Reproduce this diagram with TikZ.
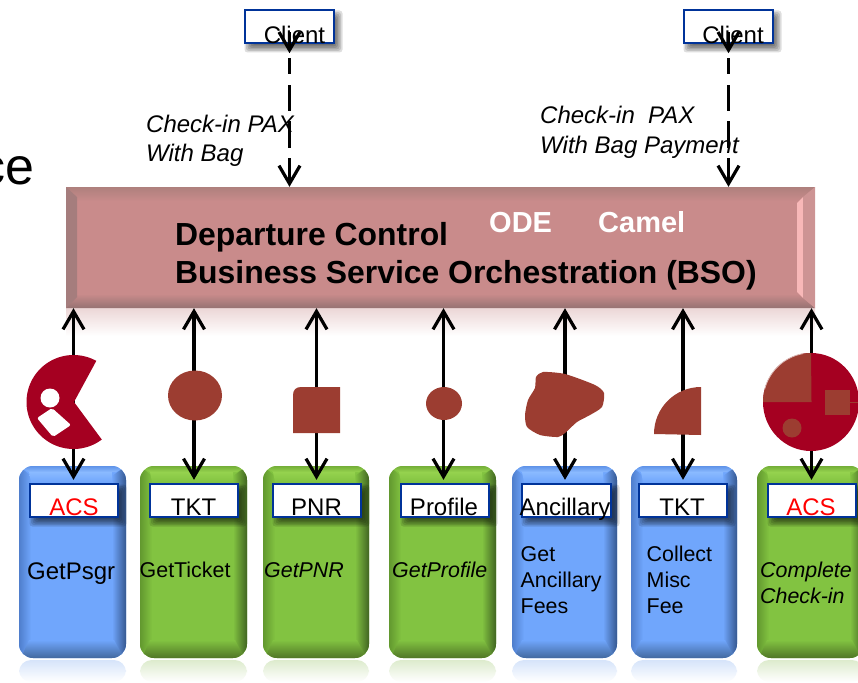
\documentclass[tikz,border=0pt]{standalone}
\usepackage{fontspec}
\setmainfont{Liberation Sans}
\usetikzlibrary{arrows.meta,calc}
\definecolor{bluemain}{HTML}{70A6FC}
\definecolor{blueleft}{HTML}{4F7ECC}
\definecolor{blueright}{HTML}{365890}
\definecolor{bluetop}{HTML}{5F93E8}
\definecolor{bluehi}{HTML}{8ABAFF}
\definecolor{bluebot}{HTML}{42699F}
\definecolor{blueref}{HTML}{D6E4FA}
\definecolor{greenmain}{HTML}{82C341}
\definecolor{greenleft}{HTML}{62982F}
\definecolor{greenright}{HTML}{416522}
\definecolor{greentop}{HTML}{74AE38}
\definecolor{greenhi}{HTML}{95D24E}
\definecolor{greenbot}{HTML}{507627}
\definecolor{greenref}{HTML}{DDEBCD}
\definecolor{bsomain}{HTML}{C98B8B}
\definecolor{bsotop}{HTML}{AE807D}
\definecolor{bsoleft}{HTML}{A57D7D}
\definecolor{bsobot}{HTML}{967272}
\definecolor{bsohi}{HTML}{F8B8B8}
\definecolor{iconred}{HTML}{A50021}
\definecolor{iconbrown}{HTML}{9C3D31}
\definecolor{labelblue}{HTML}{003399}
\tikzset{
  x=1pt,y=-1pt,
  tiphead/.style={-{Straight Barb[length=18pt,width=21pt,line width=3.2pt]}},
  biarrow/.style={line width=3.2pt,{Straight Barb[length=18pt,width=21pt,line width=3.2pt]}-{Straight Barb[length=18pt,width=21pt,line width=3.2pt]},shorten >=3pt},
  dashflow/.style={line width=3.2pt,dash pattern=on 16pt off 11pt on 26pt off 10pt on 27pt off 10pt on 60pt,tiphead},
  labelbox/.style={draw=labelblue,line width=2.4pt,fill=white,inner sep=0pt,minimum height=32pt},
  labeltext/.style={anchor=base,font=\fontsize{24}{24}\selectfont,inner sep=0pt},
  tasktext/.style={anchor=base west,font=\fontsize{21.4}{26}\selectfont,inner sep=0pt,align=left},
  notetext/.style={anchor=base west,font=\fontsize{24}{29}\selectfont\itshape,inner sep=0pt,align=left},
  bsotext/.style={anchor=base west,font=\fontsize{31.9}{38}\selectfont\bfseries,inner sep=0pt,align=left},
  whitetext/.style={anchor=base west,font=\fontsize{29}{29}\selectfont\bfseries,text=white,inner sep=0pt},
  blockbase/.style={inner sep=0pt,rounded corners=14pt},
}
% id, x1, x2, palette
\newcommand{\taskblock}[4]{%
  \shade[top color=#4ref,bottom color=white,rounded corners=12pt] (#2,660) rectangle (#3,682);
  \path let \n1={(#2+#3)/2}, \n2={#3-#2} in
    node[blockbase,fill=#4main,minimum width=\n2 pt,minimum height=192pt] (b#1) at (\n1,562) {};
  \begin{scope}
    \clip[rounded corners=14pt] (#2,466) rectangle (#3,658);
    \shade[left color=#4left,right color=#4main] (#2,466) -- ({#2+12},476) -- ({#2+12},644) -- (#2,658) -- cycle;
    \shade[left color=#4main,right color=#4right] (#3,466) -- ({#3-14},476) -- ({#3-14},644) -- (#3,658) -- cycle;
    \shade[top color=#4top,bottom color=#4hi] (#2,466) -- (#3,466) -- ({#3-10},472) -- ({#2+10},472) -- cycle;
    \shade[top color=#4hi,bottom color=#4main] ({#2+10},472) -- ({#3-14},472) -- ({#3-14},482) -- ({#2+12},482) -- cycle;
    \shade[top color=#4main,bottom color=#4bot] ({#2+10},640) -- ({#3-12},640) -- ({#3-2},658) -- ({#2+2},658) -- cycle;
  \end{scope}
}
% id, x1, y1, x2, y2
\newcommand{\whitebox}[5]{%
  \foreach \s in {-3,-1.5,0,1.5,3,4.5}{
    \fill[black,opacity=.13,rounded corners=3pt] ({#2+4-\s},{#3+5-\s}) rectangle ({#4+4+\s},{#5+5+\s});
  }
  \path let \n1={(#2+#4)/2}, \n2={(#3+#5)/2}, \n3={#4-#2}, \n4={#5-#3} in
    node[labelbox,minimum width=\n3 pt,minimum height=\n4 pt] (#1) at (\n1,\n2) {};
}
\begin{document}
\begin{tikzpicture}
\useasboundingbox (0,0) rectangle (858,682);
\node[anchor=base east,font=\fontsize{52}{52}\selectfont,inner sep=0pt] (frag) at (35,184) {ce};

% orchestration bar
\shade[top color=bsomain!35!white,bottom color=white] (66,308) rectangle (815,336);
\node[inner sep=0pt,fill=bsomain,minimum width=749pt,minimum height=121pt] (bso) at (440.5,247.5) {};
\shade[top color=bsotop,bottom color=bsomain] (66,187) -- (815,187) -- (800,201) -- (77,201) -- cycle;
\shade[top color=bsomain,bottom color=bsobot] (77,294) -- (798,294) -- (815,308) -- (66,308) -- cycle;
\fill[bsoleft] (66,187) -- (77,197) -- (77,297) -- (66,308) -- cycle;
\fill[bsohi] (797,203) -- (803,197) -- (803,298) -- (797,292) -- cycle;
\fill[bsomain!92!white] (803,197) -- (815,187) -- (815,308) -- (803,298) -- cycle;
\node[bsotext] (dc) at (175,245.5) {Departure Control};
\node[bsotext] (bs) at (175,283.5) {Business Service Orchestration (BSO)};
\node[whitetext] (ode) at (489,232) {ODE};
\node[whitetext] (camel) at (598,232) {Camel};

% task blocks
\taskblock{1}{19}{126}{blue}
\taskblock{2}{140}{247}{green}
\taskblock{3}{263}{369}{green}
\taskblock{4}{389}{496}{green}
\taskblock{5}{512}{617}{blue}
\taskblock{6}{631}{737}{blue}
\taskblock{7}{757}{864}{green}

% label boxes
\whitebox{lb1}{30}{484}{118}{517}
\whitebox{lb2}{150}{484}{238}{517}
\whitebox{lb3}{273}{484}{361}{517}
\whitebox{lb4}{401}{484}{489}{517}
\whitebox{lb5}{522}{484}{611}{517}
\whitebox{lb6}{639}{484}{727}{517}
\whitebox{lb7}{768}{484}{856}{517}
\whitebox{c1}{245}{10}{334}{43}
\whitebox{c2}{684}{10}{773}{43}

\node[labeltext,text=red] (t1) at (74,515) {ACS};
\node[labeltext] (t2) at (193.5,515) {TKT};
\node[labeltext] (t3) at (316.5,515) {PNR};
\node[labeltext] (t4) at (444,515) {Profile};
\node[labeltext] (t5) at (565,515) {Ancillary};
\node[labeltext] (t6) at (682,515) {TKT};
\node[labeltext,text=red] (t7) at (811,515) {ACS};
\node[labeltext] (ct1) at (294.5,44) {Client};
\node[labeltext] (ct2) at (733,44) {Client};

\node[anchor=base west,font=\fontsize{24}{26}\selectfont,inner sep=0pt] (n1) at (27,579) {GetPsgr};
\node[tasktext] (n2) at (139.5,577) {GetTicket};
\node[tasktext,font=\fontsize{21.4}{26}\selectfont\itshape] (n3) at (264,577) {GetPNR};
\node[tasktext,font=\fontsize{21.4}{26}\selectfont\itshape] (n4) at (392,577) {GetProfile};
\node[tasktext] (n5) at (520.5,613) {Get\\Ancillary\\Fees};
\node[tasktext] (n6) at (646.5,613) {Collect\\Misc\\Fee};
\node[tasktext,font=\fontsize{21.4}{26}\selectfont\itshape] (n7) at (760,603) {Complete\\Check-in};

% vertical connectors
\coordinate (a1) at (73.5,0);
\coordinate (a2) at (194,0);
\coordinate (a3) at (316.5,0);
\coordinate (a4) at (443.5,0);
\coordinate (a5) at (565,0);
\coordinate (a6) at (683,0);
\coordinate (a7) at (811.5,0);
\foreach \i in {1,...,7}{
  \draw[biarrow] (bso.south -| a\i) -- (lb\i.north -| a\i);
}

% client connectors
\coordinate (d1) at ($(c1.south)+(0,14)$);
\coordinate (d2) at ($(c2.south)+(0,14)$);
\draw[line width=3.2pt,tiphead] (c1.south) ++(0,-12) -- ($(c1.south)+(0,9)$);
\draw[line width=3.2pt,tiphead] (c2.south) ++(0,-12) -- ($(c2.south)+(0,9)$);
\draw[dashflow] (d1) -- (bso.north -| d1);
\draw[dashflow] (d2) -- (bso.north -| d2);

\node[notetext] (l1) at (146,161) {Check-in PAX\\With Bag};
\node[notetext] (l2) at (540,153) {Check-in\ \ PAX\\With Bag Payment};

% icons
\fill[iconred] plot[domain=-61:-307,samples=80] ({73.5+47*cos(\x)},{402+47*sin(\x)}) -- (74,402) -- cycle;
\fill[white] (50,398) circle[radius=9.5];
\fill[white,rounded corners=2pt] (37,418) -- (52,408) -- (71,425) -- (53,437) -- cycle;

\fill[iconbrown] (195,395.5) ellipse[x radius=27,y radius=25];
\fill[iconbrown] (301,387) -- (340,387) -- (340,433) -- (293,433) -- (293,395) .. controls (293,390) and (296,387) .. (301,387) -- cycle;
\fill[iconbrown] (444,403.5) ellipse[x radius=18,y radius=16.5];
\fill[iconbrown] plot[smooth cycle,tension=.4] coordinates {(543,372) (565,374) (595,385) (604,393) (602,407) (590,415) (577,422) (565,433) (558,437) (540,435) (527,427) (525,415) (528,400) (535,388) (536,377)};
\fill[iconbrown] (701,387) .. controls (675,387) and (654,408) .. (654,434) -- (701,435) -- cycle;

\fill[iconred] (811,402) ellipse[x radius=48,y radius=49];
\fill[iconbrown] plot[domain=-90:-180,samples=30] ({811+48*cos(\x)},{402+49*sin(\x)}) -- (811.5,402) -- cycle;
\draw[iconbrown!35!white,line width=.8pt] plot[domain=-100:-165,samples=30] ({811+48*cos(\x)},{402+49*sin(\x)});
\fill[iconbrown] (825,390) rectangle (850,415);
\fill[iconbrown] (792,428) circle[radius=9.5];
\draw[iconbrown,line width=.7pt] (850,402) -- (858,402);
\end{tikzpicture}
\end{document}
